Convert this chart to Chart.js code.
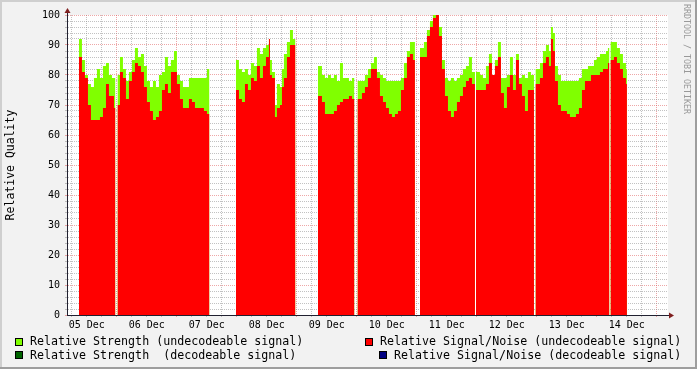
<!DOCTYPE html>
<html>
<head>
<meta charset="utf-8">
<script src="https://cdn.jsdelivr.net/npm/chart.js@4"></script>
<style>
  body { margin: 0; background: #f2f2f2; }
  #wrap { position: relative; width: 697px; height: 369px; font-family: "DejaVu Sans Mono", monospace; }
  .lg { position: absolute; font-size: 11.65px; line-height: 14px; white-space: pre; color: #000; }
  .box { position: absolute; width: 8px; height: 8px; box-sizing: border-box; border: 1px solid #000; }
  #mark { position: absolute; left: 682px; top: 4px; font-size: 8.3px; color: #999; writing-mode: vertical-rl; white-space: pre; }
</style>
</head>
<body>
<div id="wrap">
  <canvas id="chart" width="697" height="369"></canvas>
  <div id="legend"></div>
  <div id="mark">RRDTOOL / TOBI OETIKER</div>
</div>
<script>
const days = ["05 Dec", "06 Dec", "07 Dec", "08 Dec", "09 Dec", "10 Dec", "11 Dec", "12 Dec", "13 Dec", "14 Dec"];

// hours since 05 Dec 00:00, null rows are the gaps in the data
const hours = [
  8.9, 10.1, 11.3, 12.5, 13.7, 14.9, 16.1, 17.3, 18.5, 19.7, 20.9, 22.1, 22.9, 23.5, 23.9,
  24.3, 25.3, 26.5, 27.7, 28.9, 30.1, 31.3, 32.5, 33.7, 34.9, 36.1, 37.3, 38.5, 39.7, 40.9, 42.1,
  43.3, 44.5, 45.7, 46.9, 48.1, 49.3, 50.5, 51.7, 52.9, 54.1, 55.3, 56.5, 57.7, 58.9, 60.1, 61.1, 61.5,
  71.7, 72.9, 74.1, 75.3, 76.5, 77.7, 78.9, 80.1, 81.3, 82.5, 83.7, 84.9, 85.3, 86.1, 87.3, 88.1,
  89.3, 90.1, 90.9, 92.1, 93.3, 94.5, 95.5, 95.9,
  104.5, 106.1, 107.3, 108.5, 109.7, 110.9, 112.1, 113.3, 114.5, 115.7, 116.9, 118.1, 119.1, 119.5,
  120.3, 122.1, 123.3, 124.5, 125.7, 126.9, 128.1, 129.3, 130.5, 131.7, 132.9, 134.1, 135.3, 136.5,
  137.7, 138.9, 140.1, 141.3, 142.5, 143.3, 144.3,
  145.3, 146.9, 148.1, 149.3, 150.5, 151.7, 152.9, 154.1, 155.3, 156.5, 157.7, 158.9, 160.1, 161.3,
  162.5, 163.7, 164.9, 166.1, 167.3, 167.5,
  167.7, 169.3, 170.5, 171.7, 172.9, 174.1, 175.3, 176.5, 177.7, 178.9, 180.1, 181.3, 182.5, 183.7,
  184.9, 186.1, 187.3, 188.5, 189.7, 190.9, 191.2,
  191.5, 193.3, 194.5, 195.7, 196.9, 197.7, 198.5, 199.3, 200.5, 201.7, 202.9, 204.1, 205.3, 206.5,
  207.7, 208.9, 210.1, 211.3, 212.5, 213.7, 214.9, 216.1, 217.3, 218.5, 219.7, 220.5, 221.1, 221.3,
  221.5, 222.9, 224.1, 225.3, 226.5, 227.7, 228.1
];

// Relative Strength (undecodeable signal)
const strength = [
  92, 85, 80, 77, 76, 79, 82, 79, 83, 84, 80, 79, 79, 79, null,
  80, 86, 82, 78, 81, 85, 89, 86, 87, 83, 78, 76, 78, 76, 80, 81,
  86, 83, 85, 88, 80, 78, 76, 76, 79, 79, 79, 79, 79, 79, 82, 82, null,
  85, 82, 81, 82, 80, 84, 83, 89, 87, 89, 90, 92, 85, 81, 70, 77,
  76, 82, 87, 91, 95, 92, 92, null,
  83, 80, 79, 80, 79, 80, 78, 84, 79, 79, 78, 79, 79, null,
  78, 78, 80, 82, 84, 86, 81, 80, 79, 78, 78, 78, 78, 78,
  79, 84, 88, 91, 91, 91, null,
  89, 91, 95, 98, 100, 100, 96, 85, 79, 78, 79, 78, 79, 80,
  82, 83, 86, 81, 81, null,
  81, 80, 79, 83, 87, 80, 85, 91, 79, 79, 80, 86, 80, 87,
  79, 80, 79, 81, 80, 80, null,
  82, 84, 88, 90, 88, 96, 94, 83, 80, 78, 78, 78, 78, 78,
  78, 79, 82, 82, 83, 83, 85, 86, 87, 87, 88, 89, 89, null,
  91, 91, 89, 87, 84, 82, 82
];

// Relative Signal/Noise (undecodeable signal)
const snr = [
  86, 81, 79, 70, 65, 65, 65, 66, 69, 77, 73, 73, 69, 69, null,
  70, 81, 79, 72, 78, 81, 84, 83, 81, 76, 71, 68, 65, 66, 68, 75,
  77, 74, 81, 81, 77, 72, 69, 69, 72, 71, 69, 69, 69, 68, 67, 67, null,
  75, 72, 71, 77, 75, 79, 78, 83, 79, 83, 86, 92, 80, 79, 66, 69,
  70, 76, 79, 86, 90, 90, 90, null,
  73, 71, 67, 67, 67, 68, 70, 71, 72, 72, 73, 72, 72, null,
  72, 74, 76, 79, 82, 82, 79, 73, 71, 69, 67, 66, 67, 68,
  75, 79, 86, 87, 85, 85, null,
  86, 86, 93, 96, 99, 100, 93, 82, 73, 68, 66, 68, 71, 73,
  76, 78, 79, 77, 77, null,
  75, 75, 75, 77, 84, 80, 83, 86, 74, 69, 76, 80, 75, 85,
  77, 73, 68, 75, 75, 75, null,
  77, 79, 84, 86, 83, 92, 88, 78, 70, 68, 68, 67, 66, 66,
  67, 69, 75, 78, 78, 80, 80, 80, 81, 82, 82, 84, 84, null,
  85, 86, 84, 82, 79, 77, 77
];

const legendLabels = [
  "Relative Strength (undecodeable signal)",
  "Relative Signal/Noise (undecodeable signal)",
  "Relative Strength  (decodeable signal)",
  "Relative Signal/Noise (decodeable signal)"
];
const legendColors = ["#80FF00", "#FF0000", "#006400", "#000080"];

const FONT = "'DejaVu Sans Mono', monospace";
const MINOR = "rgba(143,143,143,0.55)";
const MAJOR = "rgba(222,79,79,0.5)";
const AXIS = "#202030";

// legend in the rrdtool layout
const legendPos = [
  { bx: 15, by: 338, tx: 30, ty: 334 },
  { bx: 365, by: 338, tx: 380, ty: 334 },
  { bx: 15, by: 351, tx: 30, ty: 347.5 },
  { bx: 379, by: 351, tx: 394, ty: 347.5 }
];
const legend = document.getElementById("legend");
legendLabels.forEach((txt, i) => {
  const p = legendPos[i];
  const b = document.createElement("div");
  b.className = "box";
  b.style.left = p.bx + "px";
  b.style.top = p.by + "px";
  b.style.background = legendColors[i];
  legend.appendChild(b);
  const t = document.createElement("div");
  t.className = "lg";
  t.style.left = p.tx + "px";
  t.style.top = p.ty + "px";
  t.textContent = txt;
  legend.appendChild(t);
});

const pts = arr => hours.map((h, i) => ({ x: h, y: arr[i] }));

const rrdFrame = {
  id: "rrdFrame",
  beforeDraw(chart) {
    const { ctx, chartArea: a, width, height } = chart;
    ctx.save();
    ctx.fillStyle = "#F2F2F2";
    ctx.fillRect(0, 0, width, height);
    ctx.fillStyle = "#CFCFCF";
    ctx.fillRect(0, 0, width, 2);
    ctx.fillRect(0, 0, 2, height);
    ctx.fillStyle = "#9E9E9E";
    ctx.fillRect(0, height - 2, width, 2);
    ctx.fillRect(width - 2, 0, 2, height);
    ctx.fillStyle = "#FFFFFF";
    ctx.fillRect(a.left, a.top, a.right - a.left, a.bottom - a.top);
    ctx.restore();
  },
  afterDraw(chart) {
    const { ctx, chartArea: a } = chart;
    ctx.save();
    ctx.strokeStyle = AXIS;
    ctx.lineWidth = 1;
    ctx.beginPath();
    ctx.moveTo(a.left + 0.5, a.top);
    ctx.lineTo(a.left + 0.5, a.top - 4);
    ctx.moveTo(a.right, a.bottom + 0.5);
    ctx.lineTo(a.right + 3, a.bottom + 0.5);
    ctx.stroke();
    ctx.fillStyle = "#7F1F1F";
    ctx.beginPath();
    ctx.moveTo(a.left + 0.5, a.top - 7);
    ctx.lineTo(a.left - 2.5, a.top - 2);
    ctx.lineTo(a.left + 3.5, a.top - 2);
    ctx.closePath();
    ctx.fill();
    ctx.beginPath();
    ctx.moveTo(a.right + 6, a.bottom + 0.5);
    ctx.lineTo(a.right + 1, a.bottom - 2.5);
    ctx.lineTo(a.right + 1, a.bottom + 3.5);
    ctx.closePath();
    ctx.fill();
    ctx.restore();
  }
};

new Chart(document.getElementById("chart"), {
  type: "line",
  data: {
    datasets: [
      {
        label: legendLabels[1],
        data: pts(snr),
        backgroundColor: "#FF0000",
        borderColor: "rgba(0,0,0,0)",
        borderWidth: 0,
        pointRadius: 0,
        fill: "origin",
        stepped: "before",
        order: 0
      },
      {
        label: legendLabels[0],
        data: pts(strength),
        backgroundColor: "#80FF00",
        borderColor: "rgba(0,0,0,0)",
        borderWidth: 0,
        pointRadius: 0,
        fill: "origin",
        stepped: "before",
        order: 1
      }
    ]
  },
  options: {
    responsive: false,
    animation: false,
    layout: { padding: { top: 15, right: 29, left: 0, bottom: 0 } },
    plugins: { legend: { display: false }, tooltip: { enabled: false } },
    scales: {
      x: {
        type: "linear",
        min: 4.12,
        max: 244.52,
        z: 1,
        afterFit: s => { s.height = 54; },
        ticks: {
          stepSize: 6,
          maxTicksLimit: 100,
          includeBounds: false,
          autoSkip: false,
          maxRotation: 0,
          padding: 2,
          color: "#000",
          font: { family: FONT, size: 10 },
          callback: v => (v % 24 === 12 ? days[(v - 12) / 24] : "")
        },
        grid: {
          color: c => (c.tick && c.tick.value % 24 === 0 ? MAJOR : MINOR),
          tickColor: c => (c.tick && c.tick.value % 24 === 0 ? MAJOR : MINOR),
          tickLength: 2
        },
        border: { color: AXIS, dash: [1, 1] }
      },
      y: {
        min: 0,
        max: 100,
        z: 1,
        afterFit: s => { s.width = 67; },
        ticks: {
          stepSize: 2,
          maxTicksLimit: 100,
          autoSkip: false,
          padding: 5,
          color: "#000",
          font: { family: FONT, size: 10 },
          callback: v => (v % 10 === 0 ? v : "")
        },
        grid: {
          color: c => (c.tick && c.tick.value % 10 === 0 ? MAJOR : MINOR),
          tickColor: c => (c.tick && c.tick.value % 10 === 0 ? MAJOR : MINOR),
          tickLength: 2
        },
        border: { color: AXIS, dash: [1, 1] },
        title: {
          display: true,
          text: "Relative Quality",
          color: "#000",
          font: { family: FONT, size: 11.5 },
          padding: { top: 4, bottom: 0 }
        }
      }
    }
  },
  plugins: [rrdFrame]
});
</script>
</body>
</html>
